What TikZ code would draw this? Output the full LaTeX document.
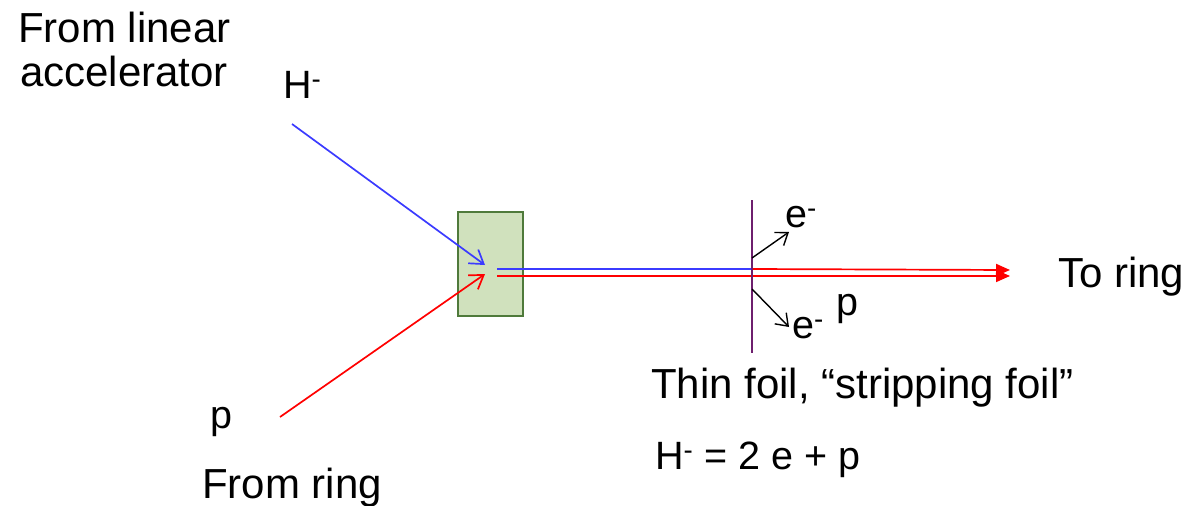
\documentclass[tikz,border=0pt]{standalone}
\usepackage{fontspec}
\setmainfont{Liberation Sans}
\usetikzlibrary{arrows.meta}
\definecolor{boxfill}{HTML}{D0E1BD}
\definecolor{boxdraw}{HTML}{4F7A3B}
\definecolor{foilc}{HTML}{6E1F6E}
\definecolor{hblue}{HTML}{3B3BFF}
\definecolor{pred}{HTML}{FF0000}
\tikzset{
  big/.style={font=\fontsize{42}{46}\selectfont, inner sep=0pt, anchor=base west},
  small/.style={font=\fontsize{39.5}{44}\selectfont, inner sep=0pt, anchor=base west},
  beam/.style={line width=1.7pt},
  openarrow/.style={-{Straight Barb[length=13pt,width=17pt,line width=1.7pt]}},
  fillarrow/.style={-{Triangle[length=14pt,width=12pt]}},
  earrow/.style={line width=1.4pt, black, -{Straight Barb[length=11pt,width=16pt,line width=1.4pt]}},
}
\begin{document}
\begin{tikzpicture}[x=1pt,y=-1pt]
\useasboundingbox (0,0) rectangle (1184,506);
% box
\node[draw=boxdraw, fill=boxfill, line width=2.8pt, minimum width=65pt, minimum height=104pt, inner sep=0pt] (box) at (490.5,264) {};
% coordinates
\coordinate (hstart) at (292,124);
\coordinate (pstart) at (280,417);
\coordinate (hend) at (485,265);
\coordinate (pend) at (485,274);
\coordinate (bl) at (497,269);
\coordinate (rl) at (497,276);
\coordinate (fb) at (752,269);
\coordinate (tb) at (1010,270);
\coordinate (tr) at (1010,276);
\coordinate (ftop) at (752,200);
\coordinate (fbot) at (752,353);
\coordinate (e1s) at (752,258);
\coordinate (e1e) at (789,232);
\coordinate (e2s) at (752,289);
\coordinate (e2e) at (789,327);
% incoming beams
\draw[beam, hblue, openarrow] (hstart) -- (hend);
\draw[beam, pred, openarrow] (pstart) -- (pend);
% horizontal beams
\draw[beam, hblue] (bl) -- (fb);
\draw[beam, pred, fillarrow] (fb) -- (tb);
\draw[beam, pred, fillarrow] (rl) -- (tr);
% foil
\draw[line width=1.7pt, foilc] (ftop) -- (fbot);
% electrons
\draw[earrow] (e1s) -- (e1e);
\draw[earrow] (e2s) -- (e2e);
% texts
\node[big] (t1) at (18,42) {From linear};
\node[big] (t2) at (20,86) {accelerator};
\node[small] (th) at (283,98) {H\textsuperscript{-}};
\node[small] (tp) at (210,428) {p};
\node[big] (tfr) at (202,498) {From ring};
\node[big] (ttr) at (1058,287) {To ring};
\node[small] (te1) at (785,227) {e\textsuperscript{-}};
\node[small] (te2) at (792,338) {e\textsuperscript{-}};
\node[small] (tpr) at (836,315) {p};
\node[big] (tfoil) at (651,398) {Thin foil, “stripping foil”};
\node[small] (teq) at (655,469) {H\textsuperscript{-} = 2 e + p};
\end{tikzpicture}
\end{document}
